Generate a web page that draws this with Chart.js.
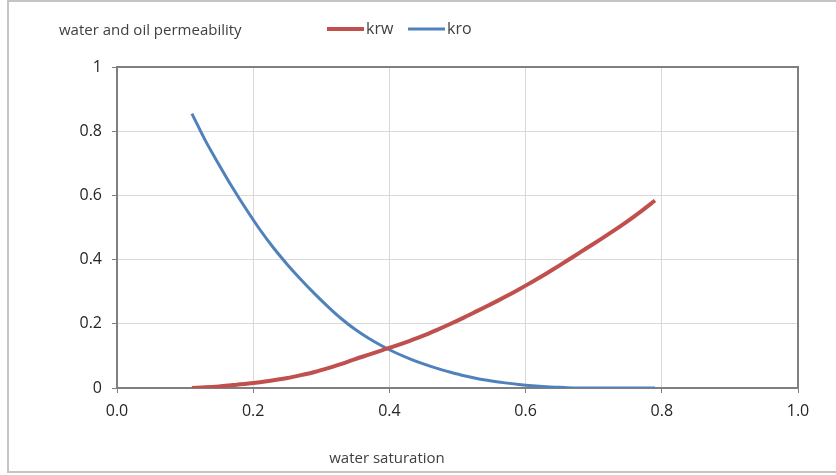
<!DOCTYPE html>
<html>
<head>
<meta charset="utf-8">
<script src="https://cdn.jsdelivr.net/npm/chart.js@4/dist/chart.umd.min.js"></script>
<style>
  html, body { margin: 0; padding: 0; background: #ffffff; }
  #wrap { position: relative; width: 836px; height: 475px; }
</style>
</head>
<body>
<div id="wrap"><canvas id="c" width="836" height="475"></canvas></div>
<script>
// ---- data ----
const chartTitle = 'water and oil permeability';
const xAxisTitle = 'water saturation';
const seriesNames = ['krw', 'kro'];
const waterSaturation = [0.11, 0.13, 0.15, 0.17, 0.19, 0.21, 0.23, 0.25, 0.27, 0.29,
                         0.31, 0.33, 0.35, 0.37, 0.39, 0.41, 0.43, 0.45, 0.47, 0.49,
                         0.51, 0.53, 0.55, 0.57, 0.59, 0.61, 0.63, 0.65, 0.67, 0.69,
                         0.71, 0.73, 0.75, 0.77, 0.79];
const krw = [0.000, 0.002, 0.005, 0.009, 0.013, 0.018, 0.024, 0.031, 0.040, 0.050,
             0.062, 0.075, 0.090, 0.104, 0.118, 0.132, 0.147, 0.163, 0.181, 0.200,
             0.220, 0.241, 0.262, 0.284, 0.307, 0.331, 0.356, 0.382, 0.409, 0.436,
             0.463, 0.491, 0.520, 0.551, 0.584];
const kro = [0.855, 0.770, 0.695, 0.623, 0.556, 0.493, 0.436, 0.385, 0.338, 0.294,
             0.253, 0.215, 0.182, 0.154, 0.130, 0.109, 0.091, 0.075, 0.061, 0.049,
             0.038, 0.029, 0.022, 0.016, 0.011, 0.007, 0.004, 0.002, 0.000, 0.000,
             0.000, 0.000, 0.000, 0.000, 0.000];
const xTickLabels = ['0.0', '0.2', '0.4', '0.6', '0.8', '1.0'];
const yTickLabels = ['0', '0.2', '0.4', '0.6', '0.8', '1'];

const FONT = '"Open Sans", "Noto Sans", sans-serif';
const TEXT = '#404040';
const TICK_TEXT = '#262626';
const colors = ['#c0504d', '#4f81bd'];
const widths = [4, 3];

const decorPlugin = {
  id: 'decor',
  beforeDraw(chart) {
    const ctx = chart.ctx;
    ctx.save();
    ctx.fillStyle = '#ffffff';
    ctx.fillRect(0, 0, chart.width, chart.height);
    // outer frame
    ctx.strokeStyle = '#c4c4c4';
    ctx.lineWidth = 2;
    ctx.beginPath();
    ctx.moveTo(chart.width, 1);
    ctx.lineTo(8, 1);
    ctx.lineTo(8, 472);
    ctx.lineTo(chart.width, 472);
    ctx.stroke();
    ctx.restore();
  },
  afterDatasetsDraw(chart) {
    const ctx = chart.ctx;
    const a = chart.chartArea;
    ctx.save();
    // plot border (top / right)
    ctx.strokeStyle = '#7f7f7f';
    ctx.lineWidth = 2;
    ctx.beginPath();
    ctx.moveTo(a.left, a.top);
    ctx.lineTo(a.right, a.top);
    ctx.lineTo(a.right, a.bottom);
    ctx.stroke();
    // title
    ctx.fillStyle = TEXT;
    ctx.font = '15px ' + FONT;
    ctx.textBaseline = 'middle';
    ctx.textAlign = 'left';
    ctx.fillText(chartTitle, 59, 31);
    // legend
    const legendX = [327, 408];
    ctx.font = '16px ' + FONT;
    chart.data.datasets.forEach((ds, i) => {
      const x0 = legendX[i];
      ctx.strokeStyle = ds.borderColor;
      ctx.lineWidth = ds.borderWidth;
      ctx.beginPath();
      ctx.moveTo(x0, 29);
      ctx.lineTo(x0 + 37, 29);
      ctx.stroke();
      ctx.fillStyle = TEXT;
      ctx.fillText(ds.label, x0 + 39, 29);
    });
    // x axis title
    ctx.textAlign = 'center';
    ctx.font = '15px ' + FONT;
    ctx.fillText(xAxisTitle, 387, 459);
    ctx.restore();
  }
};

new Chart(document.getElementById('c'), {
  type: 'line',
  data: {
    datasets: seriesNames.map((name, i) => ({
      label: name,
      data: waterSaturation.map((x, j) => ({ x: x, y: (i === 0 ? krw : kro)[j] })),
      borderColor: colors[i],
      backgroundColor: colors[i],
      borderWidth: widths[i],
      pointRadius: 0,
      tension: 0.3,
      fill: false
    }))
  },
  options: {
    responsive: false,
    animation: false,
    layout: { padding: { left: 0, top: 67, right: 38, bottom: 0 } },
    plugins: { legend: { display: false }, title: { display: false }, tooltip: { enabled: false } },
    scales: {
      x: {
        type: 'linear',
        min: 0, max: 1,
        afterFit(scale) { scale.height = 87; },
        grid: { color: '#d9d9d9', lineWidth: 1, tickColor: '#7f7f7f', tickLength: 5 },
        border: { color: '#7f7f7f', width: 2 },
        ticks: {
          stepSize: 0.2,
          padding: 9,
          color: TICK_TEXT,
          font: { family: FONT, size: 16 },
          maxRotation: 0,
          callback: (v, i) => xTickLabels[i]
        }
      },
      y: {
        type: 'linear',
        min: 0, max: 1,
        afterFit(scale) { scale.width = 117; },
        grid: { color: '#d9d9d9', lineWidth: 1, tickColor: '#7f7f7f', tickLength: 5 },
        border: { color: '#7f7f7f', width: 2 },
        ticks: {
          stepSize: 0.2,
          padding: 10,
          color: TICK_TEXT,
          font: { family: FONT, size: 16 },
          callback: (v, i) => yTickLabels[i]
        }
      }
    }
  },
  plugins: [decorPlugin]
});
</script>
</body>
</html>
